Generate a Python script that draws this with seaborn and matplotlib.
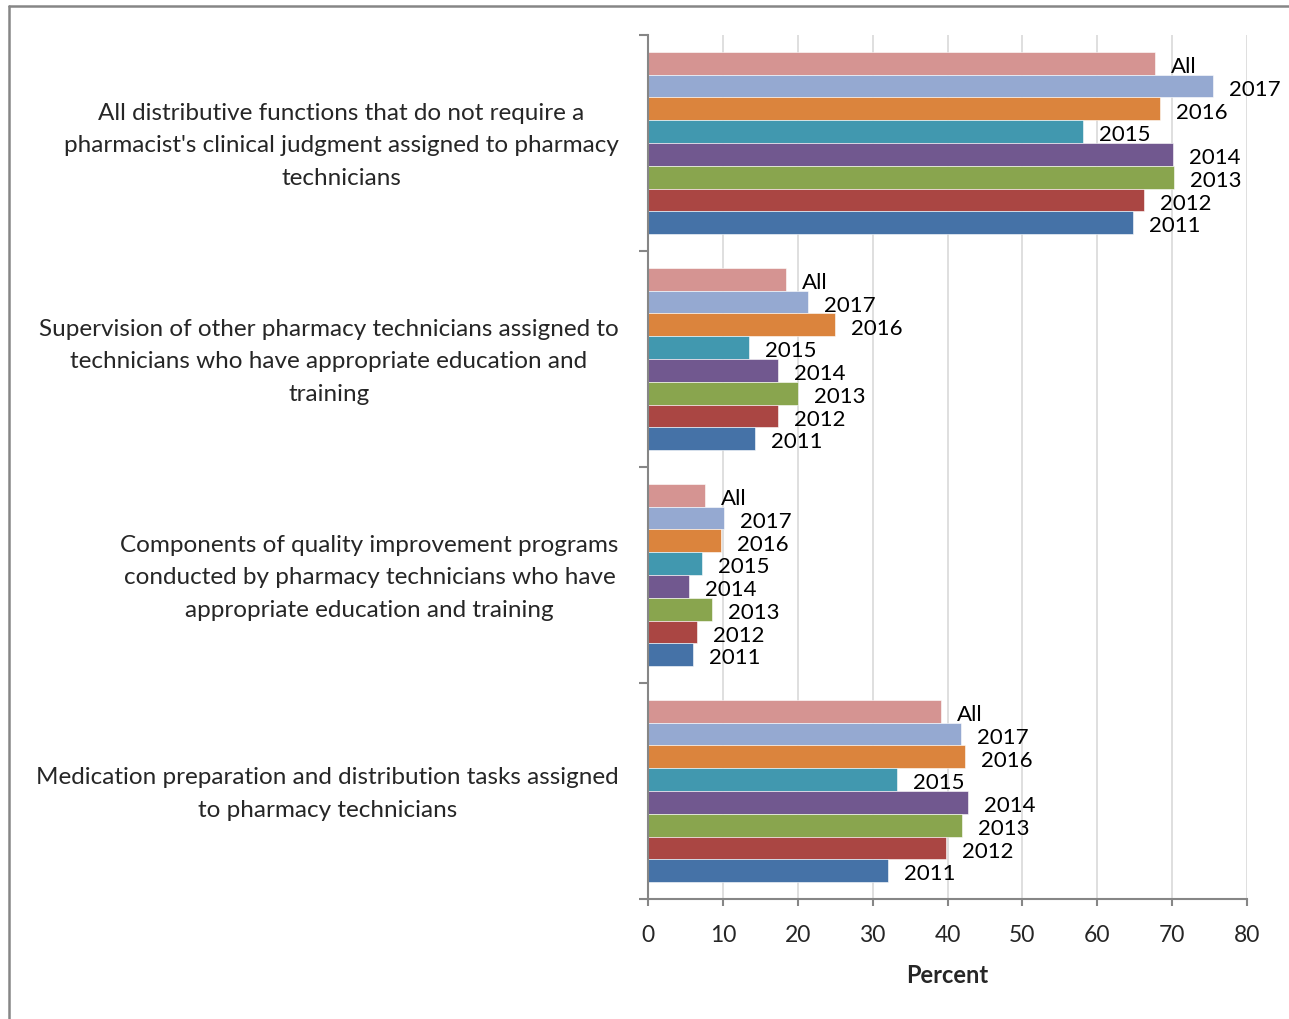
import matplotlib
matplotlib.use("Agg")
import matplotlib.pyplot as plt
import matplotlib.transforms as mtransforms
import seaborn as sns
import pandas as pd
from matplotlib.ticker import FixedLocator

categories = [
    "All distributive functions that do not require a\npharmacist's clinical judgment assigned to pharmacy\ntechnicians",
    "Supervision of other pharmacy technicians assigned to\ntechnicians who have appropriate education and\ntraining",
    "Components of quality improvement programs\nconducted by pharmacy technicians who have\nappropriate education and training",
    "Medication preparation and distribution tasks assigned\nto pharmacy technicians",
]
series = ["All", "2017", "2016", "2015", "2014", "2013", "2012", "2011"]
val_all = [67.7, 18.4, 7.6, 39.1]
val_2017 = [75.5, 21.4, 10.2, 41.8]
val_2016 = [68.4, 25.0, 9.8, 42.4]
val_2015 = [58.1, 13.5, 7.2, 33.3]
val_2014 = [70.1, 17.4, 5.5, 42.8]
val_2013 = [70.2, 20.0, 8.5, 42.0]
val_2012 = [66.2, 17.3, 6.5, 39.8]
val_2011 = [64.8, 14.3, 6.0, 32.1]
colors = ["#D59492", "#95A9D1", "#DB843D", "#4198AF", "#71588F", "#89A54E", "#AA4643", "#4572A7"]
x_ticks = [0, 10, 20, 30, 40, 50, 60, 70, 80]

values = [val_all, val_2017, val_2016, val_2015, val_2014, val_2013, val_2012, val_2011]
rows = []
for s, vals in zip(series, values):
    for c, v in zip(categories, vals):
        rows.append({"category": c, "series": s, "value": v})
df = pd.DataFrame(rows)

sns.set_style("white")
plt.rcParams["font.family"] = ["Lato", "DejaVu Sans"]

fig = plt.figure(figsize=(12.89, 10.20), dpi=100)
ax = fig.add_axes([648/1289, 1 - 900/1020, (1247 - 648)/1289, (900 - 36)/1020])

sns.barplot(data=df, y="category", x="value", hue="series", order=categories,
            hue_order=series, palette=colors, saturation=1, orient="h", width=0.843, gap=0,
            edgecolor="white", linewidth=0.4, legend=False, ax=ax)

for cont, name in zip(ax.containers, series):
    anns = ax.bar_label(cont, labels=[name] * len(cont), padding=11.5, fontsize=16, color="black")
    for a in anns:
        a.xyann = (11.5, -2)

ax.set_xlim(0, 80)
ax.set_ylim(3.5, -0.5)
ax.set_xticks(x_ticks)
ax.set_xticklabels([str(t) for t in x_ticks], fontsize=16.5)
ax.grid(axis="x", color="#D9D9D9", linewidth=1.2)
ax.set_axisbelow(True)

ax.set_yticks(range(len(categories)))
ax.set_yticklabels(categories, fontsize=17.5, multialignment="center", linespacing=1.68)
ax.tick_params(axis="y", which="major", length=0, pad=21)
ax.yaxis.set_minor_locator(FixedLocator([-0.5, 0.5, 1.5, 2.5, 3.5]))
ax.tick_params(axis="y", which="minor", length=6.5, width=1.5, color="#868686", direction="out", left=True)
ax.tick_params(axis="x", which="major", length=5, width=1.5, color="#868686", direction="out", pad=13, bottom=True)

shift = mtransforms.ScaledTranslation(0, 6 / 100, fig.dpi_scale_trans)
for tick in ax.yaxis.get_major_ticks():
    tick.label1.set_transform(tick.label1.get_transform() + shift)

for side in ["top", "right"]:
    ax.spines[side].set_visible(False)
for side in ["left", "bottom"]:
    ax.spines[side].set_color("#868686")
    ax.spines[side].set_linewidth(1.5)

ax.set_ylabel("")
ax.set_xlabel("Percent", fontsize=17, fontweight="bold", labelpad=13)

# outer chart border
fig.add_artist(plt.Line2D([9/1289, 9/1289], [0, 1 - 7/1020], color="#868686", linewidth=1.8,
                          transform=fig.transFigure))
fig.add_artist(plt.Line2D([9/1289, 1], [1 - 7/1020, 1 - 7/1020], color="#868686", linewidth=1.8,
                          transform=fig.transFigure))

fig.savefig("out.png", dpi=100)
